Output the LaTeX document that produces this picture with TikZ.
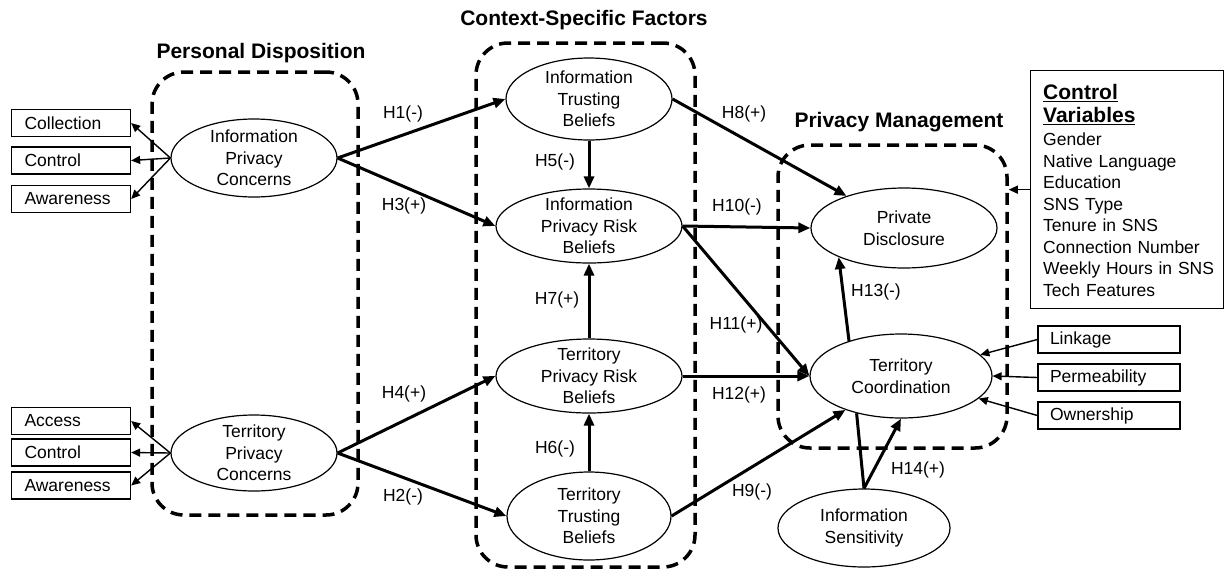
\documentclass[tikz,border=0pt]{standalone}
\usepackage{fontspec}
\setmainfont{Liberation Sans}
\usetikzlibrary{shapes.geometric,arrows.meta}
\begin{document}
\begin{tikzpicture}[x=1pt,y=-1pt,
  every node/.style={font=\fontsize{17.5}{21.5}\selectfont},
  oval/.style={ellipse, draw, line width=1.2pt, inner sep=0pt},
  lbl/.style={align=center, inner sep=0pt},
  itembox/.style={draw, line width=1.3pt, inner xsep=13pt, inner ysep=0pt,
    text width=93pt, minimum height=27pt, align=left},
  rbox/.style={itembox, text width=118pt, inner xsep=12pt},
  group/.style={draw, line width=3.5pt, dash pattern=on 12pt off 7pt,
    rounded corners=32pt, inner sep=0pt},
  title/.style={font=\fontsize{21}{25}\selectfont\bfseries},
  hyp/.style={line width=3pt, -{Triangle[length=12pt,width=10pt]}},
  ind/.style={line width=1.4pt, -{Triangle[length=9pt,width=8pt]}}
]
\useasboundingbox (0,0) rectangle (1225,571);

% dashed construct groups
\node[group, minimum width=206pt, minimum height=443pt] (pdbox) at (255,293.5) {};
\node[group, minimum width=219pt, minimum height=524pt] (csbox) at (585.5,305) {};
\node[group, minimum width=229pt, minimum height=303pt] (pmbox) at (892.5,296.5) {};

% group titles
\node[title] (t1) at (261,53) {Personal Disposition};
\node[title] (t2) at (584,20) {Context-Specific Factors};
\node[title] (t3) at (899,122) {Privacy Management};

% constructs
\node[oval, minimum width=166pt, minimum height=78pt,
  label={[lbl]center:Information\\Privacy\\Concerns}] (ipc) at (254,158) {};
\node[oval, minimum width=166pt, minimum height=76pt,
  label={[lbl]center:Territory\\Privacy\\Concerns}] (tpc) at (254,453) {};
\node[oval, minimum width=166pt, minimum height=82pt,
  label={[lbl]center:Information\\Trusting\\Beliefs}] (itb) at (589,99) {};
\node[oval, minimum width=186pt, minimum height=74pt,
  label={[lbl]center:Information\\Privacy Risk\\Beliefs}] (iprb) at (589,226) {};
\node[oval, minimum width=186pt, minimum height=74pt,
  label={[lbl]center:Territory\\Privacy Risk\\Beliefs}] (tprb) at (589,376) {};
\node[oval, minimum width=164pt, minimum height=88pt,
  label={[lbl]center:Territory\\Trusting\\Beliefs}] (ttb) at (589,516) {};
\node[oval, minimum width=186pt, minimum height=80pt,
  label={[lbl]center:Private\\Disclosure}] (pd) at (904,228) {};
\node[oval, minimum width=182pt, minimum height=84pt,
  label={[lbl]center:Territory\\Coordination}] (tc) at (901,376) {};
\node[oval, minimum width=172pt, minimum height=78pt,
  label={[lbl]center:Information\\Sensitivity}] (is) at (864,528) {};

% indicator boxes
\node[itembox] (col) at (71,123) {Collection};
\node[itembox] (ctl1) at (71,160.5) {Control};
\node[itembox] (aw1) at (71,199) {Awareness};
\node[itembox] (acc) at (71,421) {Access};
\node[itembox] (ctl2) at (71,452.5) {Control};
\node[itembox] (aw2) at (71,485.5) {Awareness};
\node[rbox] (link) at (1109,339.5) {Linkage};
\node[rbox] (perm) at (1109,377.5) {Permeability};
\node[rbox] (own) at (1109,415.5) {Ownership};

% control variables
\node[draw, line width=1.3pt, anchor=north west, minimum width=193pt,
  minimum height=238pt, inner sep=0pt] (cv) at (1030,70) {};
\node[anchor=north west, text width=175pt, align=left, inner sep=0pt] (cvt) at (1043,84)
  {{\fontsize{21}{25}\selectfont\bfseries\underline{Control}\\[1.5pt]\underline{Variables}}\\[2pt]
   Gender\\Native Language\\Education\\SNS Type\\Tenure in SNS\\Connection Number\\
   Weekly Hours in SNS\\Tech Features};

% indicator links
\draw[ind] (ipc.west) -- (col.east);
\draw[ind] (ipc.west) -- (ctl1.east);
\draw[ind] (ipc.west) -- (aw1.east);
\draw[ind] (tpc.west) -- (acc.east);
\draw[ind] (tpc.west) -- (ctl2.east);
\draw[ind] (tpc.west) -- (aw2.east);
\draw[ind] (link.west) -- (tc);
\draw[ind] (perm.west) -- (tc.east);
\draw[ind] (own.west) -- (tc);
\draw[ind] (cv.west) -- (cv.west -| pmbox.east);

% hypothesised paths
\draw[hyp] (ipc.east) -- (itb.west);
\draw[hyp] (ipc.east) -- (iprb.west);
\draw[hyp] (tpc.east) -- (tprb.west);
\draw[hyp] (tpc.east) -- (ttb.west);
\draw[hyp] (itb) -- (iprb);
\draw[hyp] (tprb) -- (iprb);
\draw[hyp] (ttb) -- (tprb);
\draw[hyp] (itb.east) -- (pd);
\draw[hyp] (iprb.east) -- (pd.west);
\draw[hyp] (iprb.east) -- (tc.west);
\draw[hyp] (tprb.east) -- (tc.west);
\draw[hyp] (ttb.east) -- (tc);
\draw[hyp] (tc.146) -- (pd.204);
\draw[line width=3pt] (tc.220) -- (is.north);
\draw[hyp] (is.north) -- (tc.south);

% path labels
\node (h1) at (403,114) {H1(-)};
\node (h3) at (404,206) {H3(+)};
\node (h4) at (404,394) {H4(+)};
\node (h2) at (403,497) {H2(-)};
\node (h5) at (555,162) {H5(-)};
\node (h7) at (557,300) {H7(+)};
\node (h6) at (555,449) {H6(-)};
\node (h8) at (744,114) {H8(+)};
\node (h10) at (737,207) {H10(-)};
\node (h11) at (736,325) {H11(+)};
\node (h12) at (739,395) {H12(+)};
\node (h9) at (752,492) {H9(-)};
\node (h13) at (876,292) {H13(-)};
\node (h14) at (918,470) {H14(+)};
\end{tikzpicture}
\end{document}
